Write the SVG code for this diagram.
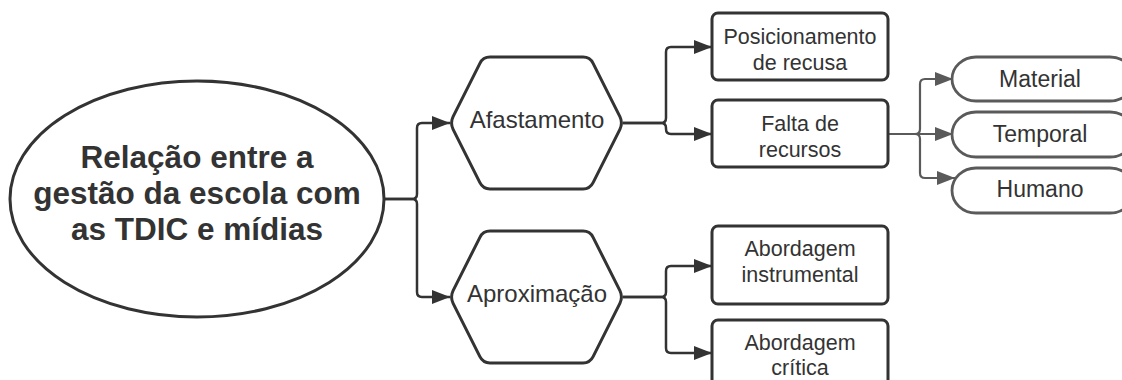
<svg xmlns="http://www.w3.org/2000/svg" width="1122" height="380" viewBox="0 0 1122 380">
<style>
  text { font-family: "Liberation Sans", Arial, sans-serif; fill: #333333; text-anchor: middle; }
  .title { font-size: 31.5px; font-weight: bold; }
  .hex { font-size: 24px; }
  .box { font-size: 21.5px; }
  .pill { font-size: 23px; }
  .shape { fill: #ffffff; stroke: #333333; stroke-width: 3; stroke-linejoin: round; }
  .pshape { fill: #ffffff; stroke: #5a5a5a; stroke-width: 2.8; }
  .conn { fill: none; stroke: #333333; stroke-width: 2.5; marker-end: url(#arr); }
  .gconn { fill: none; stroke: #5a5a5a; stroke-width: 2.2; marker-end: url(#garr); }
</style>
<defs>
  <marker id="arr" markerUnits="userSpaceOnUse" markerWidth="19" markerHeight="14" refX="18" refY="7" orient="auto">
    <path d="M0,0 L18,7 L0,14 z" fill="#333333"/>
  </marker>
  <marker id="garr" markerUnits="userSpaceOnUse" markerWidth="19" markerHeight="14" refX="18" refY="7" orient="auto">
    <path d="M0,0 L18,7 L0,14 z" fill="#5a5a5a"/>
  </marker>
  <path id="hexshape" d="M453.1,116.7 L479.9,63.3 Q483,57 490,57 L583,57 Q590,57 593.1,63.3 L619.9,116.7 Q623,123 619.9,129.3 L593.1,182.7 Q590,189 583,189 L490,189 Q483,189 479.9,182.7 L453.1,129.3 Q450,123 453.1,116.7 Z"/>
</defs>
<rect width="1122" height="380" fill="#ffffff"/>

<g id="connectors">
  <path class="conn" d="M385,199 H412 Q417,199 417,194 V128 Q417,123 422,123 H450"/>
  <path class="conn" d="M385,199 H412 Q417,199 417,204 V292 Q417,297 422,297 H450"/>
  <path class="conn" d="M623,123 H661 Q666,123 666,118 V52 Q666,47 671,47 H712"/>
  <path class="conn" d="M623,123 H661 Q666,123 666,128 V129 Q666,134 671,134 H712"/>
  <path class="conn" d="M623,297 H661 Q666,297 666,292 V271 Q666,266 671,266 H712"/>
  <path class="conn" d="M623,297 H661 Q666,297 666,302 V348 Q666,353 671,353 H712"/>
  <path class="gconn" d="M888,134 H915 Q920,134 920,129 V84 Q920,79 925,79 H953"/>
  <path class="gconn" d="M888,134 H953"/>
  <path class="gconn" d="M888,134 H915 Q920,134 920,139 V173 Q920,178 925,178 H955"/>
</g>

<g id="root">
  <ellipse class="shape" cx="197" cy="199" rx="187" ry="118" stroke-width="2.6"/>
  <text class="title" x="197" y="168">Relação entre a</text>
  <text class="title" x="197" y="204">gestão da escola com</text>
  <text class="title" x="197" y="240">as TDIC e mídias</text>
</g>

<g id="afastamento">
  <use href="#hexshape" class="shape" stroke-width="3.2"/>
  <text class="hex" x="537" y="128">Afastamento</text>
</g>

<g id="aproximacao">
  <use href="#hexshape" class="shape" stroke-width="3.2" transform="translate(0,174)"/>
  <text class="hex" x="537" y="302">Aproximação</text>
</g>

<g id="posicionamento">
  <rect class="shape" x="712" y="13" width="176" height="67" rx="6"/>
  <text class="box" x="800" y="44">Posicionamento</text>
  <text class="box" x="800" y="70">de recusa</text>
</g>

<g id="falta">
  <rect class="shape" x="712" y="100" width="176" height="67" rx="6"/>
  <text class="box" x="800" y="131">Falta de</text>
  <text class="box" x="800" y="157">recursos</text>
</g>

<g id="instrumental">
  <rect class="shape" x="712" y="226" width="176" height="78" rx="6"/>
  <text class="box" x="800" y="256">Abordagem</text>
  <text class="box" x="800" y="282">instrumental</text>
</g>

<g id="critica">
  <rect class="shape" x="712" y="320" width="176" height="78" rx="6"/>
  <text class="box" x="800" y="350">Abordagem</text>
  <text class="box" x="800" y="375">crítica</text>
</g>

<g id="material">
  <rect class="pshape" x="952" y="57" width="182" height="44" rx="24" ry="22"/>
  <text class="pill" x="1040" y="87">Material</text>
</g>

<g id="temporal">
  <rect class="pshape" x="952" y="112" width="182" height="45" rx="24" ry="22.5"/>
  <text class="pill" x="1040" y="142">Temporal</text>
</g>

<g id="humano">
  <rect class="pshape" x="952" y="168" width="182" height="45" rx="24" ry="22.5"/>
  <text class="pill" x="1040" y="197">Humano</text>
</g>
</svg>
